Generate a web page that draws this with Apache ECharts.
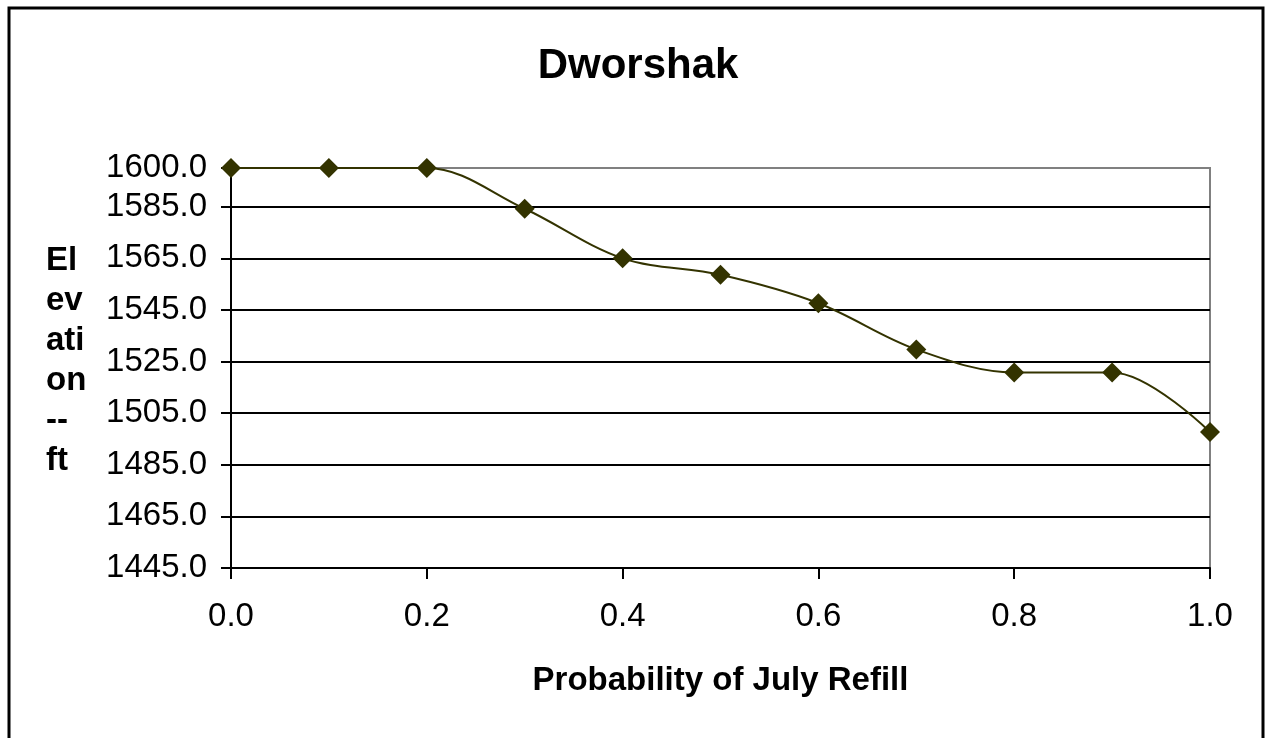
<!DOCTYPE html>
<html>
<head>
<meta charset="utf-8">
<script src="https://cdn.jsdelivr.net/npm/echarts@6/dist/echarts.min.js"></script>
<style>
html,body{margin:0;padding:0;background:#fff;}
#chart{width:1265px;height:738px;}
</style>
</head>
<body>
<div id="chart"></div>
<script>
// Data
var chartTitle = 'Dworshak';
var xAxisTitle = 'Probability of July Refill';
var yAxisTitleLines = ['El', 'ev', 'ati', 'on', '--', 'ft'];
var probabilities = [0.0, 0.1, 0.2, 0.3, 0.4, 0.5, 0.6, 0.7, 0.8, 0.9, 1.0];
var elevations = [1600.0, 1600.0, 1600.0, 1584.2, 1565.0, 1558.6, 1547.6, 1529.7, 1520.8, 1520.8, 1497.7];
var yMin = 1445, yMax = 1600, yStep = 20;
var xMin = 0, xMax = 1, xStep = 0.2;

var fontFam = '"Liberation Sans", Arial, sans-serif';
var chart = echarts.init(document.getElementById('chart'), null, {renderer: 'canvas'});

var splitColors = [];
for (var v = yMin; v < yMax; v += yStep) splitColors.push('#000000');
splitColors.push('#808080');

var option = {
  backgroundColor: '#ffffff',
  animation: false,
  title: {
    text: chartTitle,
    left: 633,
    textAlign: 'center',
    top: 40,
    textStyle: {fontFamily: fontFam, fontSize: 42, fontWeight: 'bold', color: '#000'}
  },
  grid: {
    left: 231, right: 55, top: 168, bottom: 170,
    show: true, borderColor: '#808080', borderWidth: 2, backgroundColor: 'transparent'
  },
  xAxis: {
    type: 'value',
    min: xMin, max: xMax, interval: xStep,
    name: xAxisTitle,
    nameLocation: 'middle',
    nameGap: 96,
    nameTextStyle: {fontFamily: fontFam, fontSize: 33, fontWeight: 'bold', color: '#000'},
    axisLine: {show: true, onZero: false, lineStyle: {color: '#000', width: 2}},
    axisTick: {show: true, inside: false, length: 11, lineStyle: {color: '#000', width: 2}},
    axisLabel: {
      margin: 32, fontFamily: fontFam, fontSize: 33, color: '#000',
      formatter: function (v) { return v.toFixed(1); }
    },
    splitLine: {show: false}
  },
  yAxis: {
    type: 'value',
    min: yMin, max: yMax, interval: yStep,
    axisLine: {show: true, onZero: false, lineStyle: {color: '#000', width: 2}},
    axisTick: {show: true, inside: false, length: 10, lineStyle: {color: '#000', width: 2}},
    axisLabel: {
      margin: 24, fontFamily: fontFam, fontSize: 33, color: '#000',
      formatter: function (v) { return v.toFixed(1); }
    },
    splitLine: {show: true, lineStyle: {color: splitColors, width: 2}}
  },
  graphic: [
    {
      type: 'rect',
      shape: {x: 9, y: 8, width: 1254, height: 800},
      style: {fill: 'none', stroke: '#000', lineWidth: 3},
      silent: true, z: 100
    },
    {
      type: 'text',
      style: {
        x: 46, y: 241,
        text: yAxisTitleLines.join('\n'),
        font: 'bold 33px ' + fontFam,
        lineHeight: 40,
        fill: '#000',
        textAlign: 'left',
        textVerticalAlign: 'top'
      },
      silent: true
    }
  ],
  series: [{
    type: 'line',
    data: probabilities.map(function (p, i) { return [p, elevations[i]]; }),
    smooth: 0.35,
    symbol: 'diamond',
    symbolSize: 20,
    clip: false,
    lineStyle: {color: '#333300', width: 2},
    itemStyle: {color: '#333300'}
  }]
};
chart.setOption(option);
</script>
</body>
</html>
